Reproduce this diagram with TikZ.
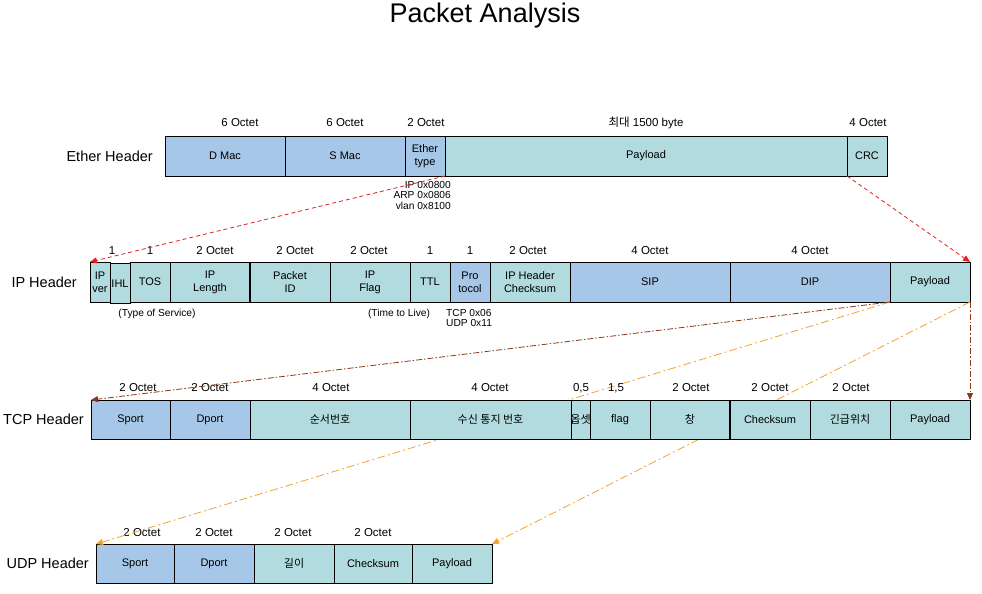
\documentclass[tikz,border=0pt]{standalone}
\usepackage{fontspec}
\setmainfont{Liberation Sans}
\newfontfamily\kr{Noto Sans CJK KR}
\usepackage{tikz}
\usetikzlibrary{arrows.meta, positioning}

\definecolor{hdrblue}{RGB}{166,199,231}
\definecolor{hdrteal}{RGB}{177,219,222}
\definecolor{ethred}{RGB}{222,32,32}
\definecolor{tcpbrown}{RGB}{140,56,24}
\definecolor{udporange}{RGB}{242,162,48}

\tikzset{
  field/.style={draw, line width=0.9pt, minimum height=40pt, inner sep=0pt, outer sep=0pt,
    align=center, font=\fontsize{11}{13}\selectfont},
  bluef/.style={field, fill=hdrblue},
  tealf/.style={field, fill=hdrteal},
  octet/.style={inner sep=0pt, font=\fontsize{11.5}{13}\selectfont},
  note/.style={inner sep=0pt, font=\fontsize{10.2}{10.5}\selectfont},
  rowname/.style={inner sep=0pt, font=\fontsize{14.5}{16}\selectfont},
  link/.style={line width=0.8pt, -{Triangle[length=7pt,width=6pt]}},
}

\begin{document}
\begin{tikzpicture}[x=1pt, y=-1pt]
        \useasboundingbox (0,0) rectangle (982,594);

        \node (title) [font=\fontsize{27}{30}\selectfont] at (485,16) {Packet Analysis};

        % Ether Header
        \node (dmac) [bluef, minimum width=120pt, anchor=north west] at (165,136) {D Mac};
        \node (smac) [bluef, minimum width=120pt, right=0pt of dmac] {S Mac};
        \node (etype) [bluef, minimum width=40pt, right=0pt of smac] {Ether\\type};
        \node (epay) [tealf, minimum width=402pt, right=0pt of etype] {Payload};
        \node (crc) [tealf, minimum width=40pt, right=0pt of epay] {CRC};
        \node (ethname) [rowname, left=12pt of dmac] {Ether Header};

        \node (dmaclen) [octet] at (240,123) {6 Octet};
        \node (smaclen) [octet] at (345,123) {6 Octet};
        \node (etypelen) [octet] at (426,123) {2 Octet};
        \node (epaylen) [octet] at (646,123) {{\kr 최대} 1500 byte};
        \node (crclen) [octet] at (868,123) {4 Octet};
        \node (etypenote) [note, anchor=north east, align=right] at (451,181) {IP 0x0800\\ARP 0x0806\\vlan 0x8100};

        % IP Header
        \node (ipver) [tealf, minimum width=20pt, anchor=north west] at (90,262) {IP\\ver};
        \node (ihl) [tealf, minimum width=20pt, right=0pt of ipver, yshift=-1.5pt] {IHL};
        \node (tos) [tealf, minimum width=40pt, right=20pt of ipver] {TOS};
        \node (iplen) [tealf, minimum width=80pt, right=0pt of tos] {IP\\Length};
        \node (pktid) [tealf, minimum width=80pt, right=0pt of iplen] {Packet\\ID};
        \node (ipflag) [tealf, minimum width=80pt, right=0pt of pktid] {IP\\Flag};
        \node (ttl) [tealf, minimum width=40pt, right=0pt of ipflag] {TTL};
        \node (proto) [bluef, minimum width=40pt, right=0pt of ttl] {Pro\\tocol};
        \node (ipchk) [tealf, minimum width=80pt, right=0pt of proto] {IP Header\\Checksum};
        \node (sip) [bluef, minimum width=160pt, right=0pt of ipchk] {SIP};
        \node (dip) [bluef, minimum width=160pt, right=0pt of sip] {DIP};
        \node (ippay) [tealf, minimum width=80pt, right=0pt of dip] {Payload};
        \draw[line width=1.8pt] (iplen.north east) -- (iplen.south east);
        \node (ipname) [rowname, left=13pt of ipver] {IP Header};

        \node (ihllen) [octet] at (112,251) {1};
        \node (toslen) [octet] at (150,251) {1};
        \node (iplenlen) [octet] at (215,251) {2 Octet};
        \node (pktidlen) [octet] at (295,251) {2 Octet};
        \node (ipflaglen) [octet] at (369,251) {2 Octet};
        \node (ttllen) [octet] at (430,251) {1};
        \node (protolen) [octet] at (470,251) {1};
        \node (ipchklen) [octet] at (528,251) {2 Octet};
        \node (siplen) [octet] at (650,251) {4 Octet};
        \node (diplen) [octet] at (810,251) {4 Octet};
        \node (tosnote) [note] at (157,314) {(Type of Service)};
        \node (ttlnote) [note] at (399,314) {(Time to Live)};
        \node (protonote) [note, anchor=north west, align=left] at (446,309) {TCP 0x06\\UDP 0x11};

        % UDP Header
        \node (usport) [bluef, minimum width=78pt, minimum height=39pt, anchor=north west] at (96,544) {Sport};
        \node (udport) [bluef, minimum width=80pt, minimum height=39pt, right=0pt of usport] {Dport};
        \node (ulen) [tealf, minimum width=80pt, minimum height=39pt, right=0pt of udport] {\kr 길이};
        \node (uchk) [tealf, minimum width=78pt, minimum height=39pt, right=0pt of ulen] {Checksum};
        \node (upay) [tealf, minimum width=80pt, minimum height=39pt, right=0pt of uchk] {Payload};
        \node (udpname) [rowname, left=7pt of usport] {UDP Header};

        \node (usportlen) [octet] at (142,533) {2 Octet};
        \node (udportlen) [octet] at (214,533) {2 Octet};
        \node (ulenlen) [octet] at (293,533) {2 Octet};
        \node (uchklen) [octet] at (373,533) {2 Octet};

        % IP -> UDP (behind the TCP row)
        \draw[link, udporange, dash pattern=on 8pt off 3pt on 2pt off 3pt] (ippay.south west) -- (usport.north west);
        \draw[link, udporange, dash pattern=on 8pt off 3pt on 2pt off 3pt] (ippay.south east) -- (upay.north east);

        % TCP Header
        \node (tsport) [bluef, minimum width=79pt, minimum height=39pt, anchor=north west] at (91,400) {Sport};
        \node (tdport) [bluef, minimum width=80pt, minimum height=39pt, right=0pt of tsport] {Dport};
        \node (seq) [tealf, minimum width=160pt, minimum height=39pt, right=0pt of tdport] {\kr 순서번호};
        \node (ack) [tealf, minimum width=161pt, minimum height=39pt, right=0pt of seq] {\kr 수신 통지 번호};
        \node (offset) [tealf, minimum width=19pt, minimum height=39pt, right=0pt of ack] {\makebox[0pt]{\kr 옵셋}};
        \node (flag) [tealf, minimum width=60pt, minimum height=39pt, right=0pt of offset] {flag};
        \node (win) [tealf, minimum width=80pt, minimum height=39pt, right=0pt of flag] {\kr 창};
        \node (tchk) [tealf, minimum width=80pt, minimum height=39pt, right=0pt of win] {Checksum};
        \node (urg) [tealf, minimum width=80pt, minimum height=39pt, right=0pt of tchk] {\kr 긴급위치};
        \node (tpay) [tealf, minimum width=80pt, minimum height=39pt, right=0pt of urg] {Payload};
        \draw[line width=1.8pt] (win.north east) -- (win.south east);
        \node (tcpname) [rowname, left=7pt of tsport] {TCP Header};

        \node (tsportlen) [octet] at (138,388) {2 Octet};
        \node (tdportlen) [octet] at (210,388) {2 Octet};
        \node (seqlen) [octet] at (331,388) {4 Octet};
        \node (acklen) [octet] at (490,388) {4 Octet};
        \node (offsetlen) [octet] at (581,388) {0,5};
        \node (flaglen) [octet] at (616,388) {1,5};
        \node (winlen) [octet] at (691,388) {2 Octet};
        \node (tchklen) [octet] at (770,388) {2 Octet};
        \node (urglen) [octet] at (851,388) {2 Octet};

        % Ether -> IP
        \draw[link, ethred, dash pattern=on 4pt off 3pt] (etype.south east) -- (ipver.north west);
        \draw[link, ethred, dash pattern=on 4pt off 3pt] (crc.south west) -- (ippay.north east);

        % IP -> TCP
        \draw[link, tcpbrown, dash pattern=on 6pt off 2pt on 1.5pt off 2pt] (ippay.south west) -- (tsport.north west);
        \draw[link, tcpbrown, dash pattern=on 6pt off 2pt on 1.5pt off 2pt] (ippay.south east) -- (tpay.north east);
\end{tikzpicture}
\end{document}
